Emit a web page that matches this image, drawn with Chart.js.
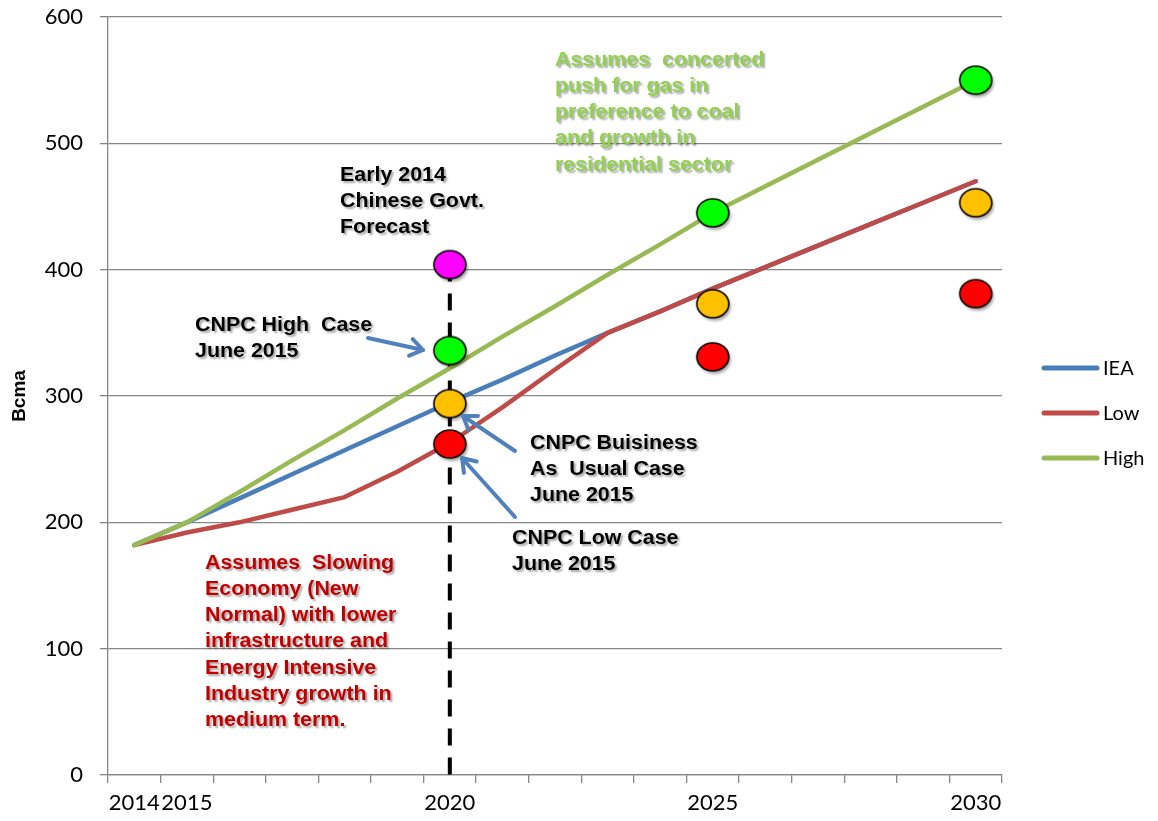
<!DOCTYPE html>
<html><head><meta charset="utf-8">
<script src="https://cdn.jsdelivr.net/npm/chart.js@4.4.0/dist/chart.umd.min.js"></script>
<style>html,body{margin:0;padding:0;background:#fff;}#wrap{width:1158px;height:821px;position:relative;}</style>
</head><body><div id="wrap"><canvas id="c" width="1158" height="821"></canvas></div>
<script>
// ---------- data ----------
const years = ['2014','2015','2016','2017','2018','2019','2020','2021','2022','2023','2024','2025','2026','2027','2028','2029','2030'];
const xTickLabels = ['2014','2015','2020','2025','2030'];
const iea  = [182,200,219,238,257,276,295,313,332,350,367,385,402,419,436,453,470];
const low  = [182,192,200,210,220,240,263,291,321,350,367,385,402,419,436,453,470];
const high = [182,200,224,249,273,298,322,347,371,396,420,445,466,487,508,529,550];
const caseYears = ['2020','2025','2030'];
const cnpcHigh = [336,445,550];
const cnpcBAU  = [294,373,453];
const cnpcLow  = [262,331,381];
const govtYear = '2020';
const govtForecast = 404;
const yMax = 600, yStep = 100;

// ---------- styles ----------
const C = {iea:'#4a7ebb', low:'#be4b48', high:'#98b954', grid:'#868686',
  ptHigh:'#00ff00', ptBAU:'#ffc000', ptLow:'#ff0000', ptGovt:'#ff00ff', arrow:'#4f81bd'};

function ellipse(color){
  const cv = document.createElement('canvas');
  cv.width = 48; cv.height = 44;
  const g = cv.getContext('2d');
  g.save();
  g.shadowColor = 'rgba(0,0,0,0.35)'; g.shadowBlur = 3; g.shadowOffsetX = 2; g.shadowOffsetY = 3;
  g.beginPath(); g.ellipse(24, 22, 16, 14, 0, 0, Math.PI*2);
  g.fillStyle = color; g.fill();
  g.restore();
  g.beginPath(); g.ellipse(24, 22, 16, 14, 0, 0, Math.PI*2);
  g.lineWidth = 1.6; g.strokeStyle = '#000'; g.stroke();
  return cv;
}
const pts = (vals) => caseYears.map((y,i)=>({x:y, y:vals[i]}));

function ptSet(label, data, color){
  return {label, data, showLine:false, pointStyle: ellipse(color), pointRadius:15,
    borderColor:'#000', backgroundColor:color, order:0};
}

const annotations = [
  {color:'#000', x:340, lines:['Early 2014','Chinese Govt.','Forecast'], y:175},
  {color:'#000', x:195, lines:['CNPC High  Case','June 2015'], y:325},
  {color:'#000', x:530, lines:['CNPC Buisiness','As  Usual Case','June 2015'], y:443},
  {color:'#000', x:512, lines:['CNPC Low Case','June 2015'], y:538},
  {color:'#c00000', x:205, lines:['Assumes  Slowing','Economy (New','Normal) with lower','infrastructure and','Energy Intensive','Industry growth in','medium term.'], y:563},
  {color:'#92d050', x:555, lines:['Assumes  concerted','push for gas in','preference to coal','and growth in','residential sector'], y:60}
];
const arrows = [
  [368,338,423,350],
  [515,451,463,416],
  [515,517,462,458]
];

const overlay = {
  id:'overlay',
  afterDraw(chart){
    const ctx = chart.ctx;
    // arrows
    ctx.save();
    ctx.strokeStyle = C.arrow; ctx.lineWidth = 4; ctx.lineCap = 'round'; ctx.lineJoin = 'round';
    arrows.forEach(([x1,y1,x2,y2])=>{
      const a = Math.atan2(y2-y1, x2-x1), L = 15, s = 0.6;
      ctx.beginPath(); ctx.moveTo(x1,y1); ctx.lineTo(x2,y2); ctx.stroke();
      ctx.beginPath();
      ctx.moveTo(x2 - L*Math.cos(a-s), y2 - L*Math.sin(a-s));
      ctx.lineTo(x2,y2);
      ctx.lineTo(x2 - L*Math.cos(a+s), y2 - L*Math.sin(a+s));
      ctx.stroke();
    });
    ctx.restore();
    // annotation texts
    annotations.forEach(an=>{
      ctx.save();
      ctx.font = 'bold 20px "Liberation Sans", Arial, sans-serif';
      ctx.textBaseline = 'middle'; ctx.textAlign = 'left';
      ctx.fillStyle = an.color;
      ctx.shadowColor = 'rgba(0,0,0,0.35)'; ctx.shadowBlur = 2; ctx.shadowOffsetX = 2; ctx.shadowOffsetY = 2;
      an.lines.forEach((t,i)=>{
        ctx.save();
        ctx.translate(an.x, an.y + i*26.3);
        ctx.scale(1.07,1);
        ctx.fillText(t, 0, 0);
        ctx.restore();
      });
      ctx.restore();
    });
    // legend
    const ca = chart.chartArea;
    const items = chart.data.datasets.filter(d=>d.inLegend);
    const cy = (ca.top+ca.bottom)/2 + 17, gap = 45;
    ctx.save();
    ctx.font = '20px Lato, "Open Sans", sans-serif';
    ctx.textBaseline = 'middle'; ctx.fillStyle = '#000';
    ctx.lineCap = 'round';
    items.forEach((d,i)=>{
      const y = cy + (i-1)*gap;
      ctx.strokeStyle = d.borderColor; ctx.lineWidth = 5;
      ctx.beginPath(); ctx.moveTo(ca.right+42, y); ctx.lineTo(ca.right+95, y); ctx.stroke();
      ctx.fillText(d.label, ca.right+101, y+1);
    });
    ctx.restore();
  }
};

new Chart(document.getElementById('c'), {
  type:'line',
  data:{
    labels: years,
    datasets:[
      ptSet('Early 2014 Chinese Govt. Forecast', [{x:govtYear, y:govtForecast}], C.ptGovt),
      ptSet('CNPC High Case', pts(cnpcHigh), C.ptHigh),
      ptSet('CNPC Business As Usual Case', pts(cnpcBAU), C.ptBAU),
      ptSet('CNPC Low Case', pts(cnpcLow), C.ptLow),
      {label:'IEA', data:iea, borderColor:C.iea, backgroundColor:C.iea, borderWidth:4.5, pointRadius:0, order:3, inLegend:true, borderJoinStyle:'round', borderCapStyle:'round'},
      {label:'Low', data:low, borderColor:C.low, backgroundColor:C.low, borderWidth:4.5, pointRadius:0, order:2, inLegend:true, borderJoinStyle:'round', borderCapStyle:'round'},
      {label:'High', data:high, borderColor:C.high, backgroundColor:C.high, borderWidth:4.5, pointRadius:0, order:1, inLegend:true, borderJoinStyle:'round', borderCapStyle:'round'},
      {label:'2020 marker', data:[{x:govtYear, y:govtForecast},{x:govtYear, y:0}], borderColor:'#000', borderWidth:4, borderDash:[17,12], pointRadius:0, order:4}
    ]
  },
  options:{
    responsive:false, animation:false, devicePixelRatio:1,
    layout:{padding:{top:17, right:156, bottom:0, left:0}},
    plugins:{legend:{display:false}, tooltip:{enabled:false}},
    elements:{line:{tension:0}},
    scales:{
      x:{
        type:'category', offset:true,
        afterFit:(s)=>{ s.height = 46; },
        grid:{offset:true, drawOnChartArea:false, drawTicks:true, tickLength:8, color:C.grid, lineWidth:1.3},
        border:{display:true, color:C.grid, width:1.3},
        ticks:{autoSkip:false, maxRotation:0, minRotation:0, padding:7, color:'#000',
          font:{family:'Lato', size:22},
          callback:(v,i)=> xTickLabels.includes(years[i]) ? years[i] : ''}
      },
      y:{
        min:0, max:yMax,
        afterFit:(s)=>{ s.width = 108; s.paddingTop = 0; s.paddingBottom = 0; },
        grid:{color:C.grid, lineWidth:1.3, tickLength:8, drawTicks:true},
        border:{display:true, color:C.grid, width:1.3},
        ticks:{stepSize:yStep, padding:17, color:'#000', font:{family:'Lato', size:22}},
        title:{display:true, text:'Bcma', color:'#000', padding:{top:8, bottom:0},
          font:{family:'Liberation Sans', weight:'bold', size:19}}
      }
    }
  },
  plugins:[overlay]
});
</script></body></html>
